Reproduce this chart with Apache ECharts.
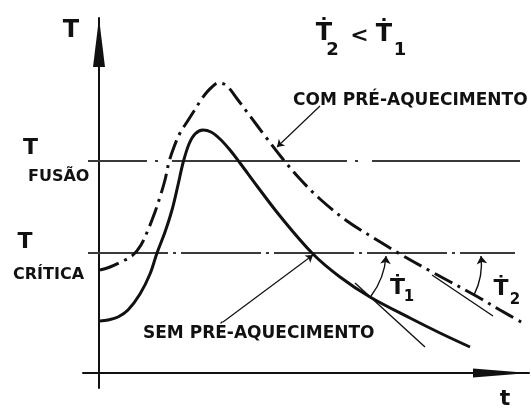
<!DOCTYPE html>
<html>
<head>
<meta charset="utf-8">
<script src="https://cdn.jsdelivr.net/npm/echarts@6/dist/echarts.min.js"></script>
<style>
  html, body { margin: 0; padding: 0; background: #fff; }
  #chart { width: 531px; height: 410px; }
</style>
</head>
<body>
<div id="chart"></div>
<script>
// Schematic thermal cycle: time t (x) and temperature T (y), arbitrary units.

// Curve without preheating (solid)
const semPreAquecimento = [
  [1, 52], [9, 53], [19, 56], [29, 63], [41, 79], [51, 99], [58, 120],
  [66, 141], [73, 163], [79, 188], [84, 210], [90, 229], [96, 239],
  [104, 243], [112, 241], [121, 234], [131, 223], [141, 210], [158, 187],
  [181, 157], [214, 119], [241, 96], [271, 76], [311, 55], [341, 40], [371, 26]
];

// Curve with preheating (dash-dot)
const comPreAquecimento = [
  [1, 103], [11, 106], [24, 112], [34, 118], [42, 128], [49, 143], [56, 161],
  [61, 176], [66, 193], [70, 211], [75, 226], [81, 240], [88, 251], [95, 262],
  [102, 273], [108, 281], [113, 286], [119, 290], [125, 289], [130, 285],
  [139, 273], [151, 257], [166, 237], [183, 215], [201, 194], [221, 174],
  [248, 152], [278, 133], [301, 119], [333, 101], [379, 76], [401, 63], [424, 50]
];

// Reference temperatures
const tFusao = 212;
const tCritica = 120;
const fusaoSpan = [-11, 421];
const criticaSpan = [-11, 416];

// Tangents giving the cooling rates
const tangente1 = [[256, 90], [326, 26]];
const tangente2 = [[333, 98], [394, 57]];

// Arcs marking the rates, from tangent point up to T crítica
const taxa1 = [[272, 77], [287, 117]];
const taxa2 = [[375, 78], [382, 117]];

// Label pointers
const setaCom = [[221, 267], [178, 226]];
const setaSem = [[124, 51], [214, 118]];

const ink = '#111';
const font = (size) => 'bold ' + size + 'px "DejaVu Sans"';

function txt(text, x, y, size, align) {
  return {
    type: 'text', x: x, y: y, z: 50,
    style: {
      text: text, font: font(size), fill: ink,
      align: align || 'center', verticalAlign: 'middle',
      textAlign: align || 'center', textVerticalAlign: 'middle'
    }
  };
}

const chart = echarts.init(document.getElementById('chart'));
chart.setOption({
  animation: false,
  backgroundColor: '#fff',
  grid: { left: 83, right: 2, top: 18, bottom: 22 },
  xAxis: {
    type: 'value', min: -16, max: 430,
    axisLine: {
      onZero: true,
      symbol: ['none', 'triangle'], symbolSize: [9, 56], symbolOffset: [0, -28],
      lineStyle: { color: ink, width: 2 }
    },
    axisTick: { show: false }, axisLabel: { show: false }, splitLine: { show: false }
  },
  yAxis: {
    type: 'value', min: -15, max: 355,
    axisLine: {
      onZero: true,
      symbol: ['none', 'triangle'], symbolSize: [12, 49], symbolOffset: [0, -24.5],
      lineStyle: { color: ink, width: 2 }
    },
    axisTick: { show: false }, axisLabel: { show: false }, splitLine: { show: false }
  },
  series: [
    {
      type: 'line', data: fusaoSpan.map(x => [x, tFusao]), showSymbol: false, silent: true,
      lineStyle: { color: '#3a3a3a', width: 1.8, type: [175, 8, 3, 14], dashOffset: 116 }
    },
    {
      type: 'line', data: criticaSpan.map(x => [x, tCritica]), showSymbol: false, silent: true,
      lineStyle: { color: '#3a3a3a', width: 1.8, type: [80, 5, 3, 5], dashOffset: 0 }
    },
    {
      type: 'line', data: semPreAquecimento, smooth: 0.35, showSymbol: false,
      lineStyle: { color: ink, width: 3 }
    },
    {
      type: 'line', data: comPreAquecimento, smooth: 0.35, showSymbol: false,
      lineStyle: { color: ink, width: 3, type: [20, 6, 3, 6] }
    },
    {
      type: 'line', data: tangente1, showSymbol: false,
      lineStyle: { color: ink, width: 1.4 }
    },
    {
      type: 'line', data: tangente2, showSymbol: false,
      lineStyle: { color: ink, width: 1.4 }
    },
    {
      type: 'lines', coordinateSystem: 'cartesian2d',
      symbol: ['none', 'arrow'], symbolSize: 8,
      lineStyle: { color: ink, width: 1.4, curveness: -0.15, opacity: 1 },
      data: [{ coords: taxa1 }, { coords: taxa2 }]
    },
    {
      type: 'lines', coordinateSystem: 'cartesian2d',
      symbol: ['none', 'arrow'], symbolSize: 7,
      lineStyle: { color: ink, width: 1.2, curveness: 0, opacity: 1 },
      data: [{ coords: setaCom }, { coords: setaSem }]
    }
  ],
  graphic: [
    txt('T', 71, 31, 24),
    txt('T', 30.5, 148.5, 22),
    txt('FUSÃO', 28, 177, 16, 'left'),
    txt('T', 25, 242.5, 22),
    txt('CRÍTICA', 13, 275, 16, 'left'),
    txt('COM PRÉ-AQUECIMENTO', 293, 101, 17, 'left'),
    txt('SEM PRÉ-AQUECIMENTO', 143, 334, 17, 'left'),
    txt('Ṫ', 324, 34, 24),
    txt('2', 332.5, 50, 18),
    txt('<', 359.5, 36.5, 22),
    txt('Ṫ', 384, 35, 24),
    txt('1', 400, 50, 18),
    txt('Ṫ', 397.5, 288.5, 22),
    txt('1', 409, 297, 15),
    txt('Ṫ', 501, 289, 22),
    txt('2', 515, 300, 15),
    txt('t', 505, 399, 22)
  ]
});
</script>
</body>
</html>
